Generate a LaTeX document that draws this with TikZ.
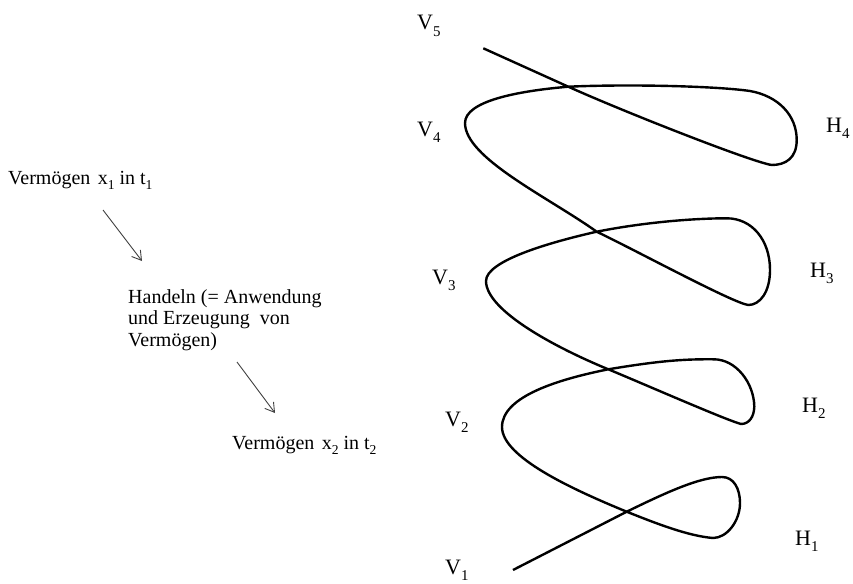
\documentclass[tikz,border=0pt]{standalone}
\usepackage{graphicx}
\usepackage{fontspec}
\setmainfont{Liberation Serif}
\usetikzlibrary{arrows.meta}
\newcommand\mysub[1]{\raisebox{-0.28em}{\scalebox{0.68}{#1}}}
\begin{document}
\begin{tikzpicture}[x=1pt,y=-1pt,
  txt/.style={inner sep=0pt, anchor=base west, font=\fontsize{20}{21.5}\selectfont},
  lbl/.style={inner sep=0pt, anchor=base west, font=\fontsize{22}{24}\selectfont},
  flow/.style={draw=black!75, line width=0.9pt, -{Straight Barb[length=9pt,width=11pt]}},
  spiral/.style={line width=2.4pt, line join=round, line cap=butt}]
\useasboundingbox (0,0) rectangle (853,583);

% left texts
\node[txt] (x1) at (8,184) {Verm\"ogen\hspace{0.12em} x\mysub{1} in t\mysub{1}};
\node[txt] (hand) at (128,303) {\begin{tabular}[t]{@{}l@{}}Handeln (= Anwendung\\und Erzeugung\hspace{0.25em} von\\Verm\"ogen)\end{tabular}};
\node[txt] (x2) at (232,449) {Verm\"ogen\hspace{0.12em} x\mysub{2} in t\mysub{2}};

\coordinate (a1s) at (103,210);
\coordinate (a1e) at (142,261);
\coordinate (a2s) at (237,362);
\coordinate (a2e) at (275,413);
\draw[flow] (a1s) -- (a1e);
\draw[flow] (a2s) -- (a2e);

% labels
\node[lbl] (V5) at (417,30) {V\mysub{5}};
\node[lbl] (V4) at (417,136) {V\mysub{4}};
\node[lbl] (V3) at (432,284) {V\mysub{3}};
\node[lbl] (V2) at (445,426) {V\mysub{2}};
\node[lbl] (V1) at (445,574) {V\mysub{1}};
\node[lbl] (H4) at (826,132) {H\mysub{4}};
\node[lbl] (H3) at (810,277) {H\mysub{3}};
\node[lbl] (H2) at (802,412) {H\mysub{2}};
\node[lbl] (H1) at (795,545) {H\mysub{1}};

% spiral
\coordinate (S) at (513,570);
\coordinate (C1) at (626.7,511.7);
\coordinate (C2) at (608.3,369.3);
\coordinate (C3) at (596.7,231.7);
\coordinate (C4) at (568.3,86.7);
\coordinate (E) at (483.3,48.3);
\draw[spiral] (S) -- (C1)
  .. controls (667,492) and (700,477) .. (722,477)
  .. controls (734,477) and (740,489) .. (740,503)
  .. controls (740,521) and (727,538) .. (713,538)
  .. controls (688,536) and (655,523) .. (C1)
  .. controls (571.5,489) and (502,457) .. (502,427)
  .. controls (502,396) and (560,379) .. (C2)
  .. controls (658,361) and (683,359) .. (713.3,359.3)
  .. controls (736,359) and (754,383) .. (754.3,406.7)
  .. controls (754,417) and (749,424) .. (741,424)
  .. controls (726,420) and (645,384.5) .. (C2)
  .. controls (557.4,348.4) and (486,311) .. (486,281)
  .. controls (486,261) and (548,242.7) .. (C3)
  .. controls (647,221.7) and (697,218.3) .. (726.7,218.3)
  .. controls (752,218.3) and (770,240) .. (770,270)
  .. controls (770,292) and (760,305) .. (748.3,305)
  .. controls (733,303) and (637,251) .. (C3)
  .. controls (547.8,196.9) and (465,158) .. (465,123)
  .. controls (465,101) and (518,91) .. (C4)
  .. controls (628,84) and (715,86) .. (750,91)
  .. controls (778,96) and (796.7,115) .. (796.7,140)
  .. controls (796.7,158) and (785.7,165) .. (771.7,165)
  .. controls (751.7,162) and (623,111.4) .. (C4)
  -- (E);
\end{tikzpicture}
\end{document}
